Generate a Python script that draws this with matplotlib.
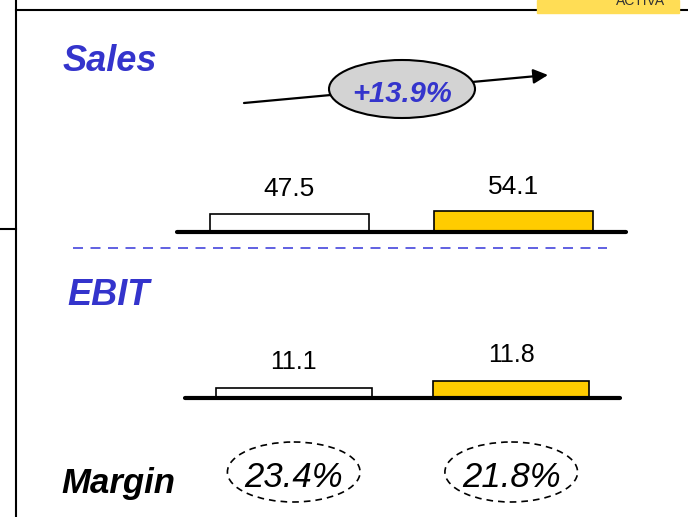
import matplotlib.pyplot as plt
from matplotlib.patches import Ellipse, Rectangle
from matplotlib.transforms import blended_transform_factory

plt.rcParams['font.family'] = ['Liberation Sans', 'DejaVu Sans']

# data
years = [0, 1]
sales = [47.5, 54.1]
ebit = [11.1, 11.8]
sales_growth = 13.9
margins = [23.4, 21.8]
bar_colors = ['white', '#ffcc00']

BLUE = '#3434cc'
W, H = 688, 517


def px_axes(fig, left, right, base, height):
    # axes placed by pixel box, base = pixel row of the baseline
    return fig.add_axes([left / W, (H - base) / H, (right - left) / W, height / H])


fig = plt.figure(figsize=(W / 100, H / 100), dpi=100)
ax = fig.add_axes([0, 0, 1, 1])
ax.set_xlim(0, W)
ax.set_ylim(H, 0)
ax.axis('off')

# frame lines
ax.plot([16, W], [10, 10], color='k', lw=1.5)
ax.plot([16, 16], [0, H], color='k', lw=1.5)
ax.plot([0, 16], [229, 229], color='k', lw=1.5)
ax.add_patch(Rectangle((537, 0), 142, 13, color='#ffdd55', zorder=3))
ax.text(641, 5, 'ACTIVA', ha='center', va='baseline', fontsize=10,
        color='#333333', zorder=4)

# section titles
ax.text(63, 71, 'Sales', fontsize=26, fontweight='bold', fontstyle='italic',
        color=BLUE, va='baseline')
ax.text(67, 305, 'EBIT', fontsize=26, fontweight='bold', fontstyle='italic',
        color=BLUE, va='baseline')
ax.text(61, 493, 'Margin', fontsize=25, fontweight='bold', fontstyle='italic',
        color='black', va='baseline')

# growth arrow + bubble
ax.annotate('', xy=(548, 75), xytext=(244, 103),
            arrowprops=dict(arrowstyle='-|>', lw=1.6, color='k',
                            mutation_scale=22, shrinkA=0, shrinkB=0))
ax.add_patch(Ellipse((402, 89), 146, 58, facecolor='#d3d3d3',
                     edgecolor='k', lw=1.5, zorder=3))
ax.text(402, 102, '+%.1f%%' % sales_growth, ha='center', va='baseline',
        fontsize=21, fontweight='bold', fontstyle='italic', color=BLUE,
        zorder=4)

# divider
ax.plot([73, 607], [248, 248], color='#4646dd', lw=1.2, dashes=(6, 4.5))

# sales bars
ax_s = px_axes(fig, 177, 626, 232, 40)
ax_s.set_xlim(-0.5, 1.5)
ax_s.set_ylim(0, 103)
ax_s.axis('off')
ax_s.bar(years, sales, width=0.71, color=bar_colors, edgecolor='k', lw=1.2)
ax_s.axhline(0, color='k', lw=3, solid_capstyle='round', clip_on=False,
             zorder=3)
for x, v in zip(years, sales):
    ax_s.annotate('%.1f' % v, xy=(x, v), xytext=(0, 12.5),
                  textcoords='offset points', ha='center', va='baseline',
                  fontsize=19, annotation_clip=False)

# ebit bars (axis floor at 10.1)
floor = 10.1
ax_e = px_axes(fig, 185, 620, 398, 40)
ax_e.set_xlim(-0.5, 1.5)
ax_e.set_ylim(floor, floor + 4)
ax_e.axis('off')
ax_e.bar(years, [v - floor for v in ebit], bottom=floor, width=0.715,
         color=bar_colors, edgecolor='k', lw=1.2)
ax_e.axhline(floor, color='k', lw=3, solid_capstyle='round', clip_on=False,
             zorder=3)
for x, v in zip(years, ebit):
    ax_e.annotate('%.1f' % v, xy=(x, v), xytext=(0, 13.5),
                  textcoords='offset points', ha='center', va='baseline',
                  fontsize=18, annotation_clip=False)

# margin bubbles, x from ebit axes, y in pixels
tr = blended_transform_factory(ax_e.transData, ax.transData)
for x, m in zip(years, margins):
    ax.add_patch(Ellipse((x, 472), 0.61, 60, transform=tr, facecolor='none',
                         edgecolor='k', lw=1.2, linestyle=(0, (4, 3))))
    ax.text(x, 487, '%.1f%%' % m, transform=tr, ha='center', va='baseline',
            fontsize=25, fontstyle='italic')

fig.savefig('out.png', dpi=100)
